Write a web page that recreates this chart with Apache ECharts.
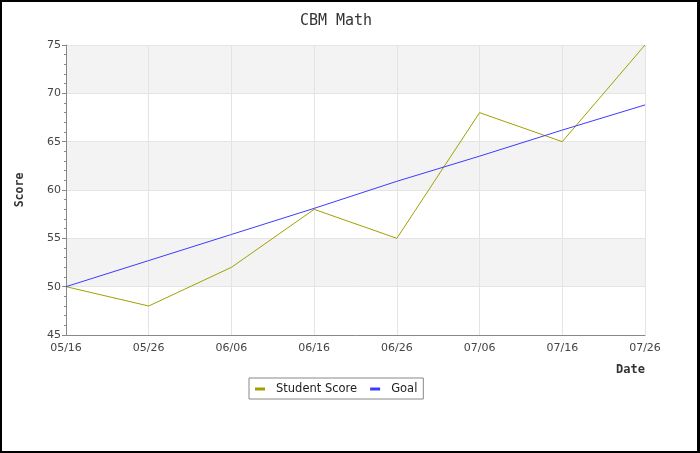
<!DOCTYPE html>
<html>
<head>
<meta charset="utf-8">
<script src="https://cdn.jsdelivr.net/npm/echarts@6/dist/echarts.min.js"></script>
<style>
html,body{margin:0;padding:0;background:#fff;}
#frame{width:700px;height:453px;box-sizing:border-box;border-style:solid;border-color:#000;border-width:2px 3px 2px 2px;position:relative;}
#chart{position:absolute;left:-2px;top:-2px;width:700px;height:453px;}
</style>
</head>
<body>
<div id="frame"><div id="chart"></div></div>
<script>
var categories = ['05/16','05/26','06/06','06/16','06/26','07/06','07/16','07/26'];
var studentScore = [50, 48, 52, 58, 55, 68, 65, 75];
var goal = [50, 52.7, 55.4, 58.1, 60.9, 63.5, 66.2, 68.8];

var chart = echarts.init(document.getElementById('chart'), null, {renderer:'canvas'});
chart.setOption({
  animation:false,
  backgroundColor:'transparent',
  title:{
    text:'CBM Math',
    left:331, top:9, textAlign:'center',
    textStyle:{fontFamily:'DejaVu Sans Mono', fontSize:15, fontWeight:'normal', color:'#333'}
  },
  legend:{
    left:249, top:378,
    padding:[5,6,4,6],
    borderColor:'#888', borderWidth:1,
    itemWidth:10, itemHeight:3, itemGap:13,
    icon:'rect',
    textStyle:{fontFamily:'DejaVu Sans', fontSize:11.5, color:'#222', padding:[0,0,0,6]},
    data:['Student Score','Goal']
  },
  graphic:[
    {type:'text', left:616, top:364,
     style:{text:'Date', font:'bold 12px "DejaVu Sans Mono"', fill:'#333'}}
  ],
  grid:{left:66, right:55, top:45, bottom:118, containLabel:false},
  xAxis:{
    type:'category',
    data:categories,
    boundaryGap:false,
    axisLine:{lineStyle:{color:'#888', width:1}},
    axisTick:{show:false},
    axisLabel:{fontFamily:'DejaVu Sans', fontSize:11, color:'#444', margin:8},
    splitLine:{show:true, lineStyle:{color:'#e4e4e4', width:1}}
  },
  yAxis:{
    type:'value',
    min:45, max:75, interval:5,
    name:'Score',
    nameLocation:'middle',
    nameGap:40,
    nameRotate:90,
    nameTextStyle:{fontFamily:'DejaVu Sans Mono', fontWeight:'bold', fontSize:11.5, color:'#333'},
    axisLine:{show:true, lineStyle:{color:'#888', width:1}},
    axisTick:{show:true, length:4, lineStyle:{color:'#888'}},
    minorTick:{show:true, splitNumber:5, length:2, lineStyle:{color:'#888'}},
    axisLabel:{fontFamily:'DejaVu Sans', fontSize:11, color:'#444', margin:5},
    splitLine:{show:true, lineStyle:{color:'#e4e4e4', width:1}},
    splitArea:{show:true, areaStyle:{color:['#ffffff','#f3f3f3']}}
  },
  series:[
    {name:'Student Score', type:'line', data:studentScore, showSymbol:false, symbol:'none',
     lineStyle:{color:'#a0a000', width:1}, itemStyle:{color:'#a0a000'}},
    {name:'Goal', type:'line', data:goal, showSymbol:false, symbol:'none',
     lineStyle:{color:'#3c3cff', width:1}, itemStyle:{color:'#3c3cff'}}
  ]
});
</script>
</body>
</html>
